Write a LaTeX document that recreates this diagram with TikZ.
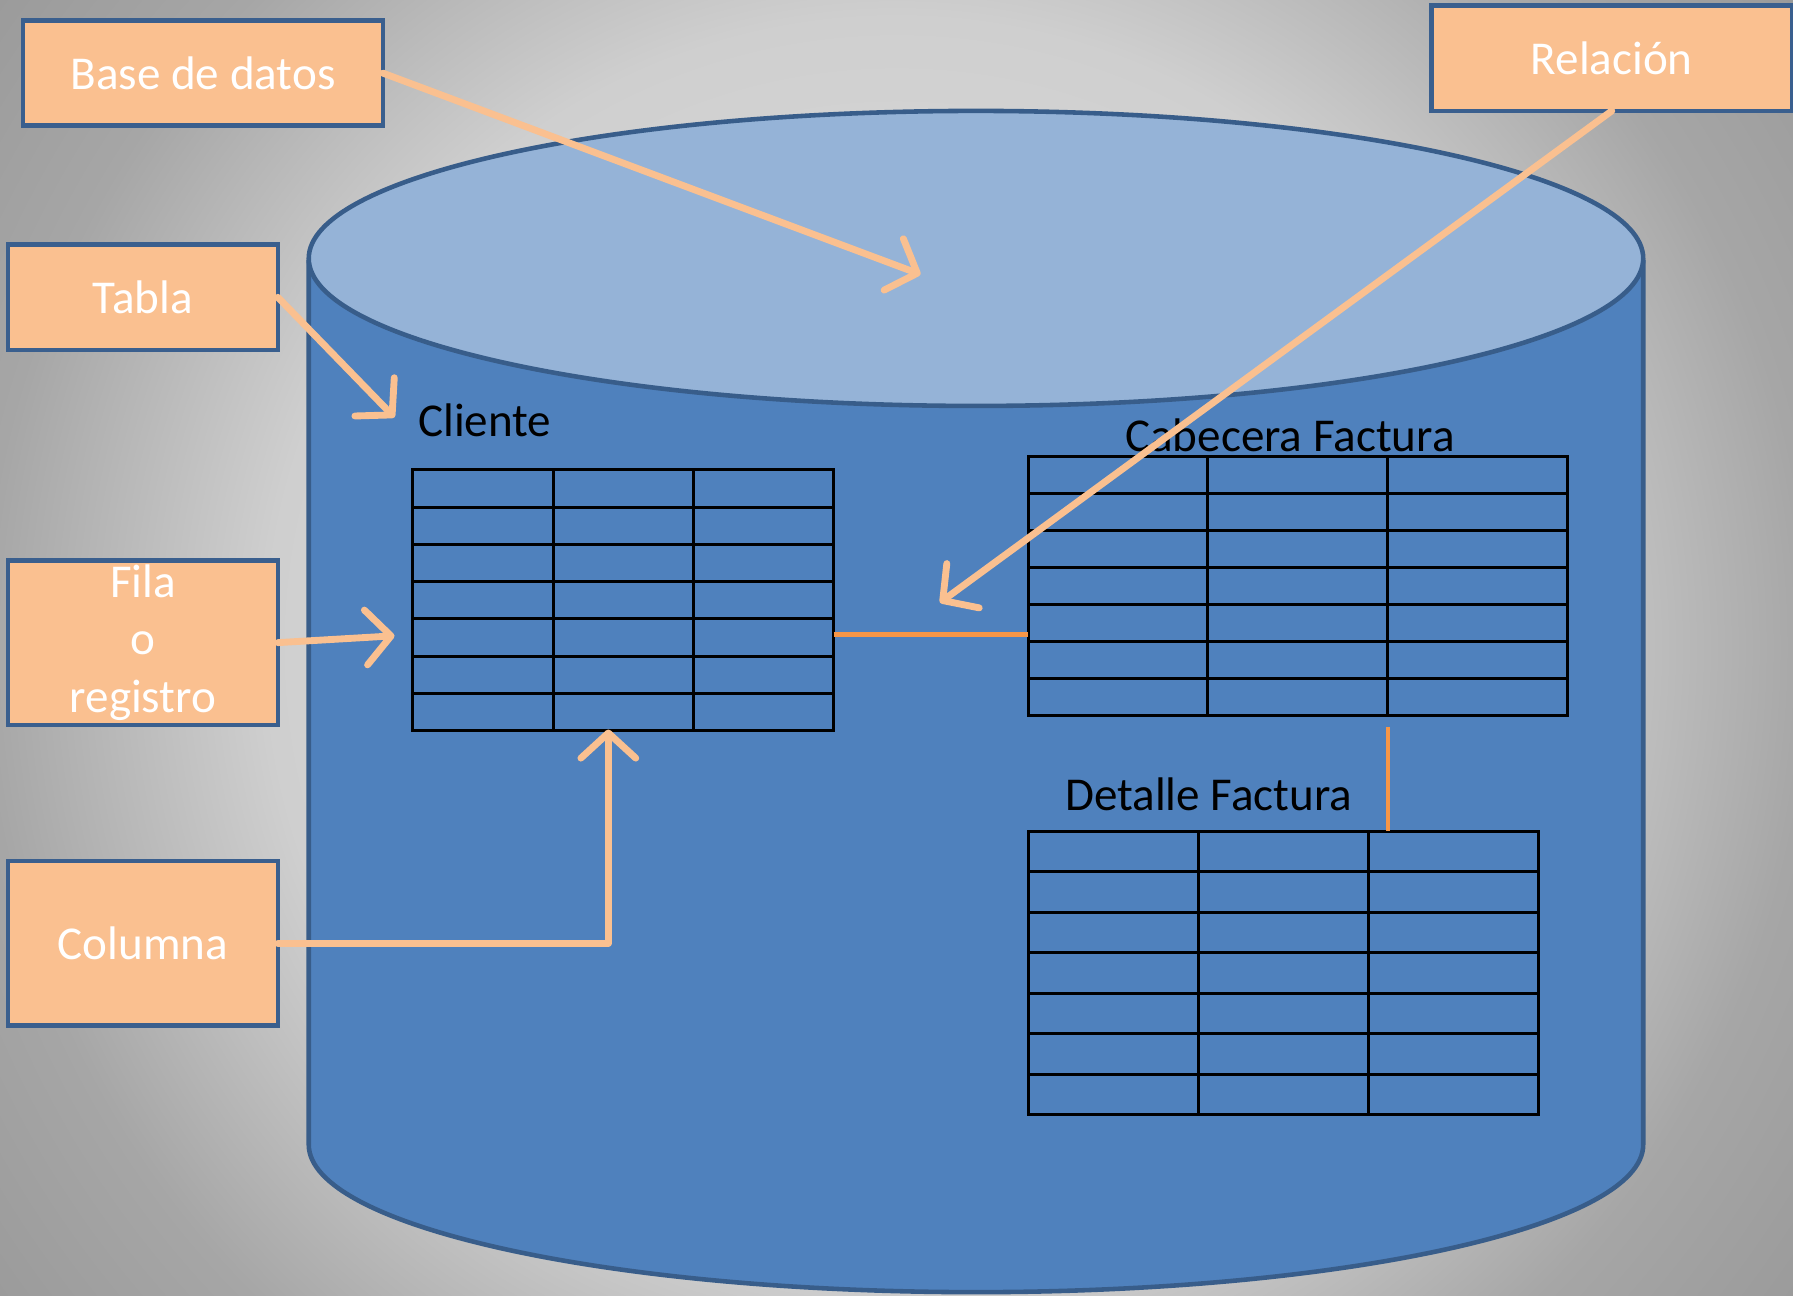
\documentclass[tikz,border=0pt]{standalone}
\usepackage{fontspec}
\setmainfont{Carlito}
\usetikzlibrary{arrows.meta,calc}
\definecolor{boxfill}{HTML}{FAC090}
\definecolor{boxline}{HTML}{3A5F8E}
\definecolor{cylbody}{HTML}{4F81BD}
\definecolor{cyltop}{HTML}{95B3D7}
\definecolor{cylline}{HTML}{385D8A}
\definecolor{arrowc}{HTML}{FAC090}
\definecolor{relc}{HTML}{F79646}
\definecolor{bgA}{HTML}{E2E2E2}
\definecolor{bgB}{HTML}{CFCFCF}
\definecolor{bgC}{HTML}{A6A6A6}
\definecolor{bgD}{HTML}{999999}
\pgfdeclareradialshading{bgshade}{\pgfpoint{0bp}{0bp}}{color(0bp)=(bgA); color(13.75bp)=(bgB); color(20bp)=(bgC); color(25bp)=(bgD); color(50bp)=(bgD)}
\begin{document}
\begin{tikzpicture}[x=0.5pt,y=-0.5pt,
  box/.style={draw=boxline, fill=boxfill, line width=2pt, text=white,
    font=\fontsize{20.6}{25}\selectfont, inner sep=0pt, outer sep=0pt, align=center},
  tbl/.style={draw=black, line width=1.3pt, inner sep=0pt, outer sep=0pt},
  tblline/.style={draw=black, line width=1.3pt},
  lbl/.style={text=black, font=\fontsize{20.6}{25}\selectfont, inner sep=0pt},
  callout/.style={draw=arrowc, line width=3pt, line cap=round, line join=round,
    -{Straight Barb[length=11pt,width=24pt,round]}},
  rel/.style={draw=relc, line width=2pt}]
\useasboundingbox (0,0) rectangle (1568,1133);
% background
\begin{scope}
\clip (0,0) rectangle (1568,1133);
\shade[shading=bgshade] (-216,-434) rectangle (1784,1566);
\end{scope}
% cylinder
\fill[cylbody] (270,227) rectangle (1437,1001);
\fill[cylbody] (853.5,1001) ellipse [x radius=583.5, y radius=129];
\draw[cylline, line width=2pt] (270,227) -- (270,1001)
  arc[start angle=180, end angle=0, x radius=583.5, y radius=129] -- (1437,227);
\filldraw[fill=cyltop, draw=cylline, line width=2pt] (853.5,226) ellipse [x radius=583.5, y radius=129];
% tables
\node[tbl, minimum width=184pt, minimum height=114pt] (cliente) at (545,525) {};
\node[tbl, minimum width=236pt, minimum height=113.5pt] (cabecera) at (1135,512.5) {};
\node[tbl, minimum width=223pt, minimum height=124pt] (detalle) at (1122,851) {};
\foreach \t in {cliente,cabecera,detalle}{
  \foreach \i in {1,2}
    \draw[tblline] ($(\t.north west)!\i/3!(\t.north east)$) -- ($(\t.south west)!\i/3!(\t.south east)$);
  \foreach \j in {1,...,6}
    \draw[tblline] ($(\t.north west)!\j/7!(\t.south west)$) -- ($(\t.north east)!\j/7!(\t.south east)$);
}
% table labels
\node[lbl] (clientelbl) at (424,368) {Cliente};
\node[lbl] (cabeceralbl) at (1128,381) {Cabecera Factura};
\node[lbl] (detallelbl) at (1057,695) {Detalle Factura};
% relations
\draw[rel] ([yshift=-15pt]cliente.east) -- ([yshift=-15pt]cliente.east -| cabecera.west);
\coordinate (cabcol) at ($(cabecera.south west)!2/3!(cabecera.south east)$);
\draw[rel] ([yshift=-5pt]cabcol) -- (cabcol |- detalle.north);
% boxes
\node[box, minimum width=157.5pt, minimum height=46pt] (base) at (177.5,64) {Base de datos};
\node[box, minimum width=118pt, minimum height=46pt] (tabla) at (125,260) {Tabla};
\node[box, minimum width=118pt, minimum height=72pt] (fila) at (125,562) {Fila\\o\\registro};
\node[box, minimum width=118pt, minimum height=72pt] (columna) at (125,825) {Columna};
\node[box, minimum width=157.5pt, minimum height=46pt] (relacion) at (1409.5,51) {Relación};
% callout arrows
\coordinate (basetip) at (805,240);
\coordinate (tablatip) at (345,365);
\coordinate (filatip) at (345,556);
\coordinate (coltip) at (532,638);
\coordinate (reltip) at (822,527);
\draw[callout] (base.east) -- (basetip);
\draw[callout] (tabla.east) -- (tablatip);
\draw[callout] (fila.east) -- (filatip);
\draw[callout] (columna.east) -- (columna.east -| coltip) -- (coltip);
\draw[callout] (relacion.south) -- (reltip);
\end{tikzpicture}
\end{document}
